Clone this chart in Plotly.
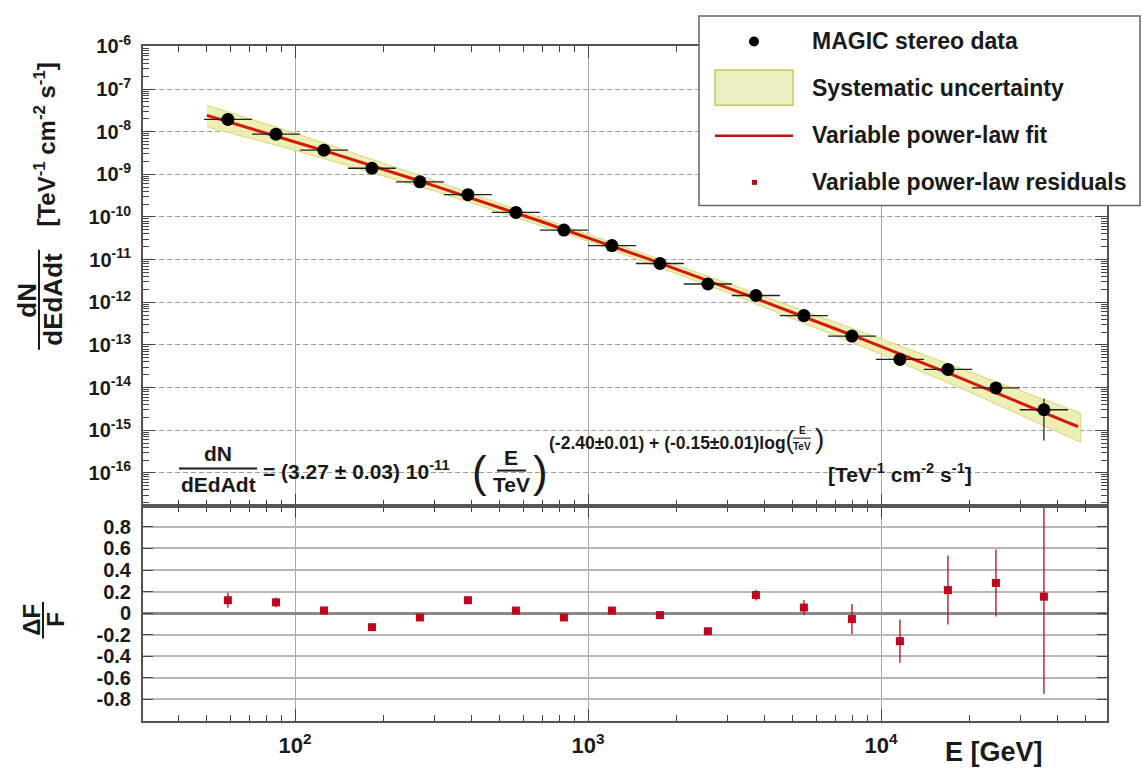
import plotly.graph_objects as go
import numpy as np

W, H = 1142, 771
FONT = "Liberation Sans, Arial, sans-serif"
INK = "#1a1a1a"

# ---- MAGIC stereo spectral points ----
energy_gev = [59.0, 86.1, 125.5, 183.0, 266.8, 389.0, 567.3, 827.2, 1206.0,
              1759.0, 2564.0, 3739.0, 5452.0, 7950.0, 11593.0, 16904.0, 24650.0, 35940.0]
bin_low_gev = [48.9, 71.3, 103.9, 151.5, 220.9, 322.1, 469.6, 684.7, 998.6,
               1456.0, 2123.0, 3096.0, 4514.0, 6581.0, 9598.0, 13996.0, 20410.0, 29760.0]
bin_high_gev = [71.3, 103.9, 151.5, 220.9, 322.1, 469.6, 684.7, 998.6, 1456.0,
                2123.0, 3096.0, 4514.0, 6581.0, 9598.0, 13996.0, 20410.0, 29760.0, 43390.0]
flux = [1.94e-8, 8.76e-9, 3.69e-9, 1.39e-9, 6.68e-10, 3.33e-10, 1.28e-10, 4.94e-11, 2.13e-11,
        8.11e-12, 2.68e-12, 1.44e-12, 4.87e-13, 1.61e-13, 4.57e-14, 2.66e-14, 9.79e-15, 3.02e-15]
flux_err = [1.0e-9, 3.2e-10, 7.2e-11, 3.2e-11, 1.4e-11, 6.0e-12, 2.5e-12, 1.0e-12, 4.2e-13,
            2.5e-13, 9.7e-14, 6.2e-14, 3.2e-14, 2.4e-14, 1.23e-14, 7.0e-15, 2.4e-15, 2.45e-15]

# ---- residuals of the variable power-law fit ----
residual = [0.12, 0.10, 0.025, -0.13, -0.04, 0.12, 0.024, -0.04, 0.024,
            -0.018, -0.168, 0.168, 0.052, -0.055, -0.26, 0.214, 0.28, 0.153]
residual_err = [0.07, 0.045, 0.02, 0.02, 0.02, 0.02, 0.02, 0.02, 0.02,
                0.03, 0.03, 0.05, 0.07, 0.14, 0.20, 0.32, 0.31, 0.90]

# ---- systematic uncertainty band ----
band_energy_gev = [50.0, 100.0, 300.0, 1000.0, 3000.0, 10000.0, 20000.0, 48000.0]
band_upper = [4.18e-8, 9.21e-9, 7.06e-10, 3.93e-11, 2.79e-12, 1.39e-13, 2.39e-14, 2.49e-15]
band_lower = [1.30e-8, 3.67e-9, 4.06e-10, 2.72e-11, 1.68e-12, 6.09e-14, 7.91e-15, 5.20e-16]

# ---- fit parameters (as quoted in the figure) ----
fit_norm = 3.27e-11      # TeV^-1 cm^-2 s^-1
fit_index = -2.40
fit_curvature = -0.15
fit_emin_gev, fit_emax_gev = 50.0, 47000.0

# axis tick labels
x_tick_vals = [100, 1000, 10000]
x_tick_text = ["<b>10<sup>2</sup></b>", "<b>10<sup>3</sup></b>", "<b>10<sup>4</sup></b>"]
y_tick_exps = list(range(-6, -17, -1))
res_tick_vals = [0.8, 0.6, 0.4, 0.2, 0, -0.2, -0.4, -0.6, -0.8]


def px(x):
    return x / W


def py(y):
    return 1 - y / H


fit_e = np.geomspace(fit_emin_gev, fit_emax_gev, 300)
fit_l = np.log10(fit_e / 1000.0)
fit_flux = fit_norm * (fit_e / 1000.0) ** (fit_index + fit_curvature * fit_l)

e = np.array(energy_gev)
err_plus = np.array(bin_high_gev) - e
err_minus = e - np.array(bin_low_gev)

fig = go.Figure()

# systematic band
fig.add_trace(go.Scatter(
    x=band_energy_gev + band_energy_gev[::-1],
    y=band_upper + band_lower[::-1],
    fill="toself", fillcolor="rgba(236,236,168,0.85)",
    line=dict(color="#d6d67a", width=1),
    mode="lines", hoverinfo="skip", showlegend=False,
    xaxis="x2", yaxis="y2"))

# fit curve
fig.add_trace(go.Scatter(
    x=fit_e, y=fit_flux, mode="lines",
    line=dict(color="#d41a0a", width=3),
    showlegend=False, xaxis="x2", yaxis="y2"))

# data points
fig.add_trace(go.Scatter(
    x=energy_gev, y=flux, mode="markers",
    marker=dict(color="black", size=13),
    error_x=dict(type="data", symmetric=False, array=err_plus, arrayminus=err_minus,
                 color="#222", thickness=1.3, width=0),
    error_y=dict(type="data", array=flux_err, color="#222", thickness=1.3, width=0),
    showlegend=False, xaxis="x2", yaxis="y2"))

# residuals
fig.add_trace(go.Scatter(
    x=energy_gev, y=residual, mode="markers",
    marker=dict(color="#c0061e", size=8, symbol="square"),
    error_y=dict(type="data", array=residual_err, color="#c0061e", thickness=1.3, width=0),
    showlegend=False, xaxis="x", yaxis="y"))

xdom = [px(143), px(1107)]
top_dom = [py(501), py(33)]
bot_dom = [py(720), py(501)]
xrange_log = [np.log10(30.28), np.log10(59000)]

minor_x = [k * 10 ** n for n in range(1, 5) for k in range(2, 10)]
minor_y = [k * 10.0 ** n for n in range(-17, -6) for k in range(2, 10)]

frame = dict(showline=True, linecolor="#555", linewidth=2, mirror="allticks",
             ticks="inside", tickcolor="#444", zeroline=False)

fig.update_layout(
    width=W, height=H,
    margin=dict(l=0, r=0, t=0, b=0),
    paper_bgcolor="white", plot_bgcolor="white",
    font=dict(family=FONT, color=INK),
    xaxis=dict(type="log", range=xrange_log, domain=xdom, anchor="y",
               tickvals=x_tick_vals, ticktext=x_tick_text, ticklen=12,
               tickfont=dict(size=22, family=FONT, color=INK), ticklabelstandoff=4,
               showgrid=True, gridcolor="#a8a8a8", gridwidth=1,
               minor=dict(tickvals=minor_x, ticks="inside", ticklen=6, tickcolor="#444"),
               **frame),
    yaxis=dict(range=[-1.0, 0.995], domain=bot_dom, anchor="x",
               tickvals=res_tick_vals, ticktext=[f"<b>{v:g}</b>" for v in res_tick_vals],
               ticklen=10, tickfont=dict(size=20, family=FONT, color=INK), ticklabelstandoff=6,
               showgrid=True, gridcolor="#b8b8b8", gridwidth=2,
               **{k: v for k, v in frame.items() if k != "zeroline"},
               zeroline=True, zerolinecolor="#8a8a8a", zerolinewidth=3),
    xaxis2=dict(type="log", range=xrange_log, domain=xdom, anchor="y2", matches="x",
                tickvals=x_tick_vals, showticklabels=False, ticklen=12,
                showgrid=True, gridcolor="#a8a8a8", gridwidth=1,
                minor=dict(tickvals=minor_x, ticks="inside", ticklen=6, tickcolor="#444"),
                **frame),
    yaxis2=dict(type="log", range=[-16.775, -6.0], domain=top_dom, anchor="x2",
                tickvals=[10.0 ** p for p in y_tick_exps],
                ticktext=[f"<b>10<sup>{p}</sup></b>" for p in y_tick_exps],
                ticklen=12, tickfont=dict(size=20, family=FONT, color=INK), ticklabelstandoff=6,
                showgrid=True, gridcolor="#a0a0a0", gridwidth=1, griddash="5px,3px",
                minor=dict(tickvals=minor_y, ticks="inside", ticklen=6, tickcolor="#444"),
                **frame),
)

shapes = []
annotations = []


def text(x, y, s, size, angle=0, xanchor="center", bold=True, color=INK):
    annotations.append(dict(
        x=px(x), y=py(y), xref="paper", yref="paper",
        text=f"<b>{s}</b>" if bold else s, showarrow=False,
        xanchor=xanchor, yanchor="middle", textangle=angle,
        font=dict(family=FONT, size=size, color=color)))


def hline(x0, x1, y, width=2, color=INK):
    shapes.append(dict(type="line", xref="paper", yref="paper",
                       x0=px(x0), x1=px(x1), y0=py(y), y1=py(y),
                       line=dict(color=color, width=width), layer="above"))


def vline(x, y0, y1, width=2, color=INK):
    shapes.append(dict(type="line", xref="paper", yref="paper",
                       x0=px(x), x1=px(x), y0=py(y0), y1=py(y1),
                       line=dict(color=color, width=width), layer="above"))


# y-axis title of the spectrum panel
text(27, 292, "dN", 26, angle=-90)
vline(39, 240, 342)
text(53, 290, "dEdAdt", 26, angle=-90)
text(45, 133, "[TeV<sup>-1</sup> cm<sup>-2</sup> s<sup>-1</sup>]", 24, angle=-90)

# y-axis title of the residual panel
text(32, 617, "ΔF", 24, angle=-90)
vline(43, 599, 636)
text(56, 617, "F", 24, angle=-90)

# x-axis title
text(994, 752, "E [GeV]", 27)

# fit formula
text(218, 448, "dN", 21)
hline(179, 257, 463)
text(218, 479, "dEdAdt", 21)
text(261, 464, "= (3.27 ± 0.03) 10<sup>-11</sup>", 21, xanchor="left")
text(479, 466, "(", 44, bold=False)
text(511, 452, "E", 21)
hline(497, 526, 465)
text(511, 479, "TeV", 21)
text(540, 466, ")", 44, bold=False)
text(547, 434, "(-2.40±0.01) + (-0.15±0.01)log"
     "<span style='font-size:26px;font-weight:normal'>(</span>", 17.5, xanchor="left")
text(802, 424, "E", 10)
hline(793, 811, 432, width=1)
text(802, 441, "TeV", 10)
text(819, 432, ")", 28, bold=False)
text(900, 467, "[TeV<sup>-1</sup> cm<sup>-2</sup> s<sup>-1</sup>]", 21)

# legend box
shapes.append(dict(type="rect", xref="paper", yref="paper",
                   x0=px(699), x1=px(1140), y0=py(195), y1=py(2),
                   line=dict(color="#666", width=1.5), fillcolor="white", layer="above"))
shapes.append(dict(type="circle", xref="paper", yref="paper",
                   x0=px(749), x1=px(759), y0=py(33), y1=py(23),
                   line=dict(color="black", width=0), fillcolor="black", layer="above"))
shapes.append(dict(type="rect", xref="paper", yref="paper",
                   x0=px(715), x1=px(793), y0=py(93), y1=py(57),
                   line=dict(color="#c8c860", width=1.5), fillcolor="#ededc2", layer="above"))
shapes.append(dict(type="line", xref="paper", yref="paper",
                   x0=px(715), x1=px(793), y0=py(124), y1=py(124),
                   line=dict(color="#c0101a", width=2.5), layer="above"))
shapes.append(dict(type="rect", xref="paper", yref="paper",
                   x0=px(752), x1=px(757), y0=py(174), y1=py(169),
                   line=dict(color="#c0061e", width=0), fillcolor="#c0061e", layer="above"))
text(810, 28, "MAGIC stereo data", 23, xanchor="left")
text(810, 75, "Systematic uncertainty", 23, xanchor="left")
text(810, 123, "Variable power-law fit", 23, xanchor="left")
text(810, 171, "Variable power-law residuals", 23, xanchor="left")

fig.update_layout(shapes=shapes, annotations=annotations)

fig.write_html("out.html")
